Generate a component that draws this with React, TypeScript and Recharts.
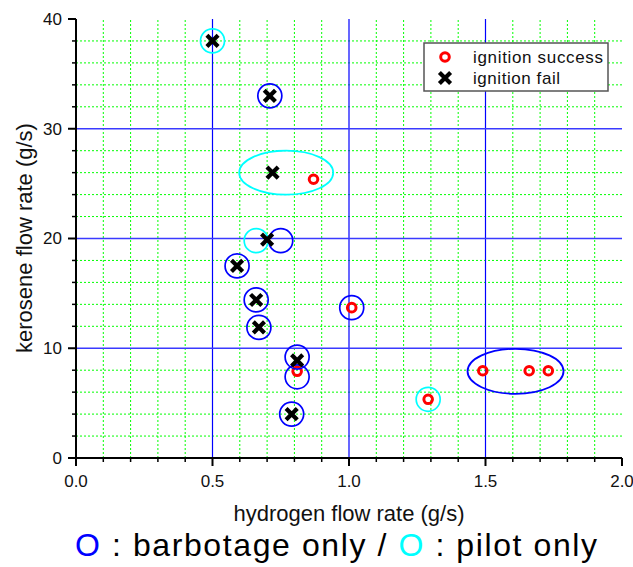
import { ScatterChart, Scatter, XAxis, YAxis, ReferenceLine } from "recharts";

const FONT = '"Liberation Sans", Arial, Helvetica, sans-serif';

// axis ticks
const xTicks = [0, 0.1, 0.2, 0.3, 0.4, 0.5, 0.6, 0.7, 0.8, 0.9, 1, 1.1, 1.2, 1.3, 1.4, 1.5, 1.6, 1.7, 1.8, 1.9, 2];
const xLabelTicks = [0, 0.5, 1, 1.5, 2];
const yTicks = [0, 2, 4, 6, 8, 10, 12, 14, 16, 18, 20, 22, 24, 26, 28, 30, 32, 34, 36, 38, 40];
const yLabelTicks = [0, 10, 20, 30, 40];

// grid lines
const xMinorGrid = [0.1, 0.2, 0.3, 0.4, 0.6, 0.7, 0.8, 0.9, 1.1, 1.2, 1.3, 1.4, 1.6, 1.7, 1.8, 1.9];
const xMajorGrid = [0.5, 1, 1.5];
const yMinorGrid = [2, 4, 6, 8, 12, 14, 16, 18, 22, 24, 26, 28, 32, 34, 36, 38];
const yMajorGrid = [10, 20, 30];

// ignition success (red rings)
const successX = [0.87, 1.01, 0.81, 1.29, 1.49, 1.66, 1.73];
const successY = [25.4, 13.7, 7.9, 5.35, 7.95, 7.95, 7.95];

// ignition fail (black crosses)
const failX = [0.5, 0.71, 0.72, 0.7, 0.59, 0.66, 0.67, 0.81, 0.79];
const failY = [38, 33, 26, 19.9, 17.5, 14.4, 11.9, 8.9, 4];

// barbotage only (blue circles)
const barbotageX = [0.71, 0.75, 0.59, 0.66, 0.67, 0.81, 0.81, 0.79, 1.01];
const barbotageY = [33, 19.8, 17.5, 14.4, 11.9, 9.2, 7.4, 4, 13.7];

// pilot only (cyan circles)
const pilotX = [0.5, 0.66, 1.29];
const pilotY = [38, 19.8, 5.35];

// group ellipses
const barbotageGroupX = [1.61];
const barbotageGroupY = [7.9];
const pilotGroupX = [0.77];
const pilotGroupY = [26];

const toPoints = (xs: number[], ys: number[]) => xs.map((x, i) => ({ x, y: ys[i] }));

const ring = (color: string, r: number, sw: number) => (p: any) => (
  <circle cx={p.cx} cy={p.cy} r={r} fill="none" stroke={color} strokeWidth={sw} />
);

const oval = (color: string, rx: number, ry: number) => (p: any) => (
  <ellipse cx={p.cx} cy={p.cy} rx={rx} ry={ry} fill="none" stroke={color} strokeWidth={1.8} />
);

function Cross({ cx, cy }: { cx: number; cy: number }) {
  const s = 5.6;
  return (
    <path
      d={`M${cx - s},${cy - s}L${cx + s},${cy + s}M${cx + s},${cy - s}L${cx - s},${cy + s}`}
      stroke="#000"
      strokeWidth={4.2}
      fill="none"
    />
  );
}

function XTick(props: any) {
  const { x, y, payload } = props;
  const major = xLabelTicks.includes(payload.value);
  return (
    <g>
      <line x1={x} x2={x} y1={y} y2={y + (major ? 8 : 4)} stroke="#000" strokeWidth={major ? 2 : 1.5} />
      {major && (
        <text x={x} y={y + 29} textAnchor="middle" fontSize={17} fontFamily={FONT} fill="#111">
          {payload.value.toFixed(1)}
        </text>
      )}
    </g>
  );
}

function YTick(props: any) {
  const { x, y, payload } = props;
  const major = yLabelTicks.includes(payload.value);
  return (
    <g>
      <line x1={x} x2={x - (major ? 8 : 4)} y1={y} y2={y} stroke="#000" strokeWidth={major ? 2 : 1.5} />
      {major && (
        <text x={x - 14} y={y} dy="0.35em" textAnchor="end" fontSize={17} fontFamily={FONT} fill="#111">
          {payload.value}
        </text>
      )}
    </g>
  );
}

export default function App() {
  return (
    <div style={{ position: "absolute", left: 0, top: 0, width: 633, height: 567, background: "#fff" }}>
      <ScatterChart width={633} height={567} margin={{ top: 19, right: 11, bottom: 49, left: 0 }}>
        <XAxis
          type="number"
          dataKey="x"
          domain={[0, 2]}
          ticks={xTicks}
          interval={0}
          height={60}
          tickSize={0}
          tickMargin={0}
          tickLine={false}
          tick={<XTick />}
          axisLine={{ stroke: "#000", strokeWidth: 2 }}
        />
        <YAxis
          type="number"
          dataKey="y"
          domain={[0, 40]}
          ticks={yTicks}
          interval={0}
          width={76}
          tickSize={0}
          tickMargin={0}
          tickLine={false}
          tick={<YTick />}
          axisLine={{ stroke: "#000", strokeWidth: 2 }}
        />
        {xMinorGrid.map((v) => (
          <ReferenceLine key={"xm" + v} x={v} stroke="#00ff00" strokeDasharray="2 2" strokeWidth={1} />
        ))}
        {yMinorGrid.map((v) => (
          <ReferenceLine key={"ym" + v} y={v} stroke="#00ff00" strokeDasharray="2 2" strokeWidth={1} />
        ))}
        {xMajorGrid.map((v) => (
          <ReferenceLine key={"xM" + v} x={v} stroke="#0000ff" strokeWidth={1.2} />
        ))}
        {yMajorGrid.map((v) => (
          <ReferenceLine key={"yM" + v} y={v} stroke="#3a3aff" strokeWidth={1.5} />
        ))}
        <Scatter data={toPoints(successX, successY)} shape={ring("#ff0000", 4.3, 3)} isAnimationActive={false} />
        <Scatter data={toPoints(barbotageX, barbotageY)} shape={ring("#0000ff", 12, 1.7)} isAnimationActive={false} />
        <Scatter data={toPoints(pilotX, pilotY)} shape={ring("#00ffff", 12, 1.7)} isAnimationActive={false} />
        <Scatter
          data={toPoints(barbotageGroupX, barbotageGroupY)}
          shape={oval("#0000ff", 48, 22.5)}
          isAnimationActive={false}
        />
        <Scatter data={toPoints(pilotGroupX, pilotGroupY)} shape={oval("#00ffff", 47, 22)} isAnimationActive={false} />
        <Scatter data={toPoints(failX, failY)} shape={(p: any) => <Cross cx={p.cx} cy={p.cy} />} isAnimationActive={false} />
      </ScatterChart>
      <svg
        width={633}
        height={567}
        style={{ position: "absolute", left: 0, top: 0, pointerEvents: "none" }}
        fontFamily={FONT}
      >
        <text x={32} y={238} transform="rotate(-90 32 238)" textAnchor="middle" fontSize={22} fill="#111">
          kerosene flow rate (g/s)
        </text>
        <text x={349} y={521} textAnchor="middle" fontSize={22} fill="#111">
          hydrogen flow rate (g/s)
        </text>
        <text x={75} y={556} fontSize={32} fill="#000" textLength={522} lengthAdjust="spacing">
          <tspan fill="#0000ff">O</tspan>
          <tspan> : barbotage only / </tspan>
          <tspan fill="#00ffff">O</tspan>
          <tspan> : pilot only</tspan>
        </text>
        <rect x={424} y={43} width={184} height={48} fill="#fff" stroke="#555" strokeWidth={1.5} />
        <circle cx={445} cy={57} r={4.3} fill="none" stroke="#ff0000" strokeWidth={3} />
        <Cross cx={445} cy={78} />
        <text x={473} y={62.5} fontSize={17} fill="#111" textLength={130} lengthAdjust="spacing">
          ignition success
        </text>
        <text x={473} y={83.5} fontSize={17} fill="#111" textLength={87} lengthAdjust="spacing">
          ignition fail
        </text>
      </svg>
    </div>
  );
}
